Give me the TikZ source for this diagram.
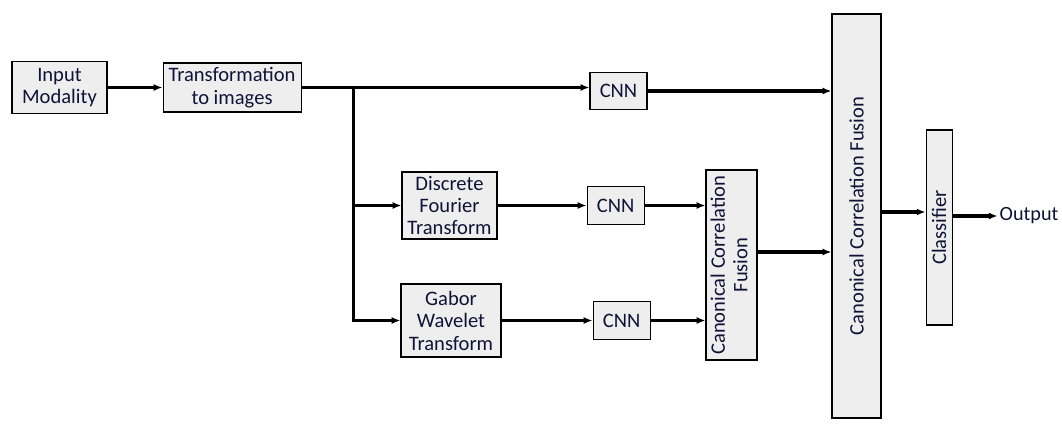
\documentclass[tikz,border=0pt]{standalone}
\usepackage{fontspec}
\setmainfont{Carlito}
\usepackage{xcolor}
\definecolor{bfill}{RGB}{238,238,238}
\definecolor{dtext}{RGB}{15,20,55}
\usetikzlibrary{arrows.meta,positioning}

\begin{document}
\begin{tikzpicture}[
  box/.style={rectangle,draw,line width=0.6pt,fill=bfill,align=center,text=dtext,font=\fontsize{11.7}{12.8}\selectfont,inner sep=1pt},
  cnnbox/.style={box,minimum width=1.14cm,minimum height=0.75cm},
  arrow/.style={-{Latex[length=5pt,width=4pt]},line width=1.9pt}
]
  \useasboundingbox (0,0) rectangle (21.24,-8.54);

  % Input and transformation
  \node[box,minimum width=1.9cm,minimum height=1.04cm] (in) at (1.19,-1.75) {Input\\Modality};
  \node[box,right=1.1cm of in,minimum width=2.76cm,minimum height=0.98cm] (trans) {Transformation\\to images};
  \coordinate[right=1.04cm of trans.east] (split);

  % Branches
  \node[cnnbox] (cnn1) at (12.37,-1.82) {CNN};
  \node[box,minimum width=1.9cm,minimum height=1.34cm] (dft) at (8.99,-4.11) {Discrete\\Fourier\\Transform};
  \node[cnnbox,right=1.78cm of dft] (cnn2) {CNN};
  \node[box,minimum width=2.0cm,minimum height=1.46cm] (gab) at (9.02,-6.41) {Gabor\\Wavelet\\Transform};
  \node[cnnbox,right=1.82cm of gab] (cnn3) {CNN};

  % Fusion and classifier
  \node[box,minimum width=1.02cm,minimum height=3.8cm] (ccf1) at (14.63,-5.30)
    {\rotatebox{90}{\begin{tabular}{@{}c@{}}Canonical Correlation\\Fusion\end{tabular}}};
  \node[box,minimum width=0.98cm,minimum height=8.08cm] (ccf2) at (17.13,-4.32)
    {\rotatebox{90}{Canonical Correlation Fusion}};
  \node[box,right=0.88cm of ccf2,yshift=-0.23cm,minimum width=0.52cm,minimum height=3.9cm] (cls)
    {\rotatebox{90}{Classifier}};
  \node[right=0.9cm of cls,yshift=0.23cm,inner sep=1pt,text=dtext,font=\fontsize{11.5}{12.5}\selectfont] (out) {Output};

  % Arrows
  \draw[arrow] (in) -- (trans);
  \draw[arrow] (trans.east) -- (split) |- (gab);
  \draw[arrow] (split) -- (split -| cnn1.west);
  \draw[arrow] (split |- dft) -- (dft);
  \draw[arrow] (dft) -- (cnn2);
  \draw[arrow] (gab) -- (cnn3);
  \draw[arrow] (cnn2) -- (cnn2 -| ccf1.west);
  \draw[arrow] (cnn3) -- (cnn3 -| ccf1.west);
  \draw[arrow] (cnn1.east) -- (cnn1.east -| ccf2.west);
  \draw[arrow] ([yshift=0.26cm]ccf1.east) -- ([yshift=0.26cm]ccf1.east -| ccf2.west);
  \draw[arrow] ([yshift=0.08cm]ccf2.east) -- ([yshift=0.08cm]ccf2.east -| cls.west);
  \draw[arrow] (cls.east |- out.west) -- (out.west);
\end{tikzpicture}
\end{document}
